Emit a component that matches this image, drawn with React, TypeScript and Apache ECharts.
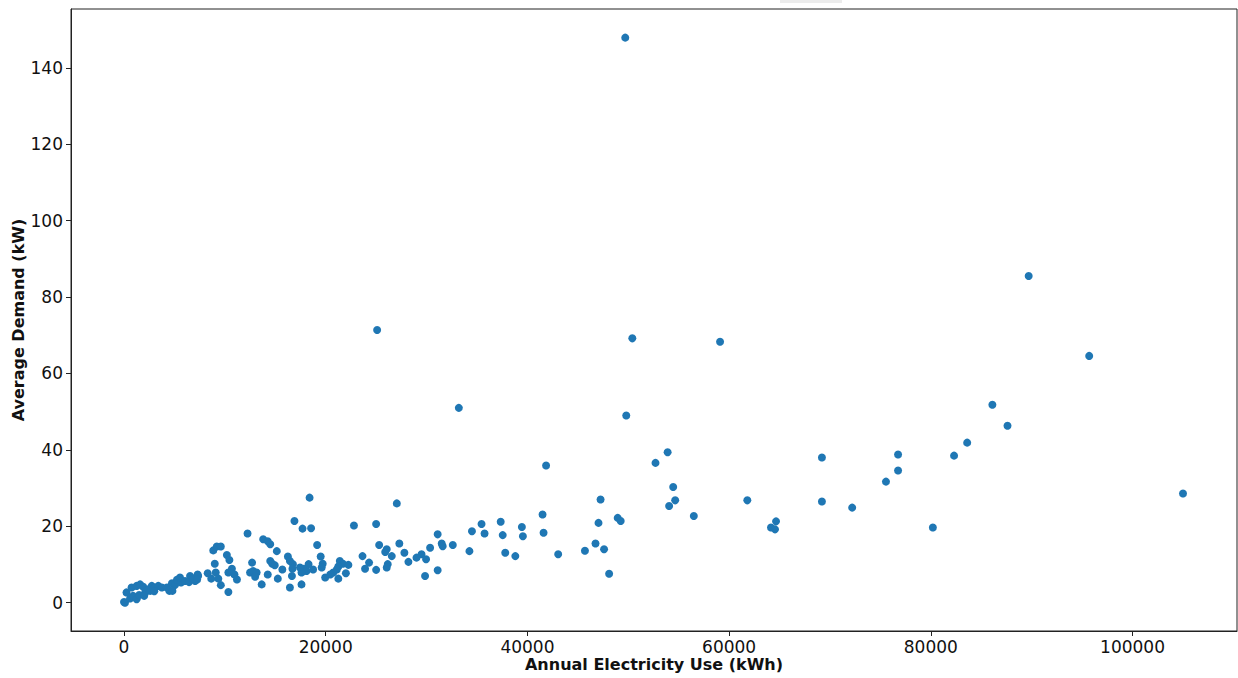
import React, { useEffect, useRef } from "react";
import * as echarts from "echarts";

const annualUse: number[] = [
  49700, 89700, 25100, 50400, 59100, 95700, 33200, 49800, 86100, 87600,
  83600, 82300, 76750, 76750, 75550, 69200, 69200, 72200, 80200, 105000,
  61800, 64150, 64650, 64550, 53900, 52700, 54450, 54650, 54050, 56500,
  47250, 47050, 48950, 49250, 46750, 47600, 48100, 41850, 41500, 41600,
  43050, 45700, 37350, 37550, 37800, 38800, 39450, 39550, 27050, 35450,
  34500, 35750, 34250, 31100, 31500, 31600, 32600, 30350, 29500, 29950,
  29000, 31100, 29850, 27300, 27800, 28200, 26550, 18400, 16900, 17700,
  18550, 22800, 25000, 19150, 19500, 19700, 25300, 26050, 25900, 26150,
  26050, 23650, 24300, 23900, 25000, 21400, 21700, 22250, 21250, 21100,
  20750, 22000, 21250, 19950, 20450, 19600, 18750, 18300, 17800, 17450,
  18100, 17600, 16750, 16650, 17600, 16450, 12250, 13800, 14250, 14500,
  15150, 8850, 9200, 9600, 10200, 10450, 9000, 10700, 10950, 11200,
  10350, 8300, 8650, 9100, 9350, 9600, 10350, 7350, 7050, 12700,
  12500, 12800, 13150, 13000, 13650, 14250, 14500, 14700, 14950, 15250,
  15700, 16250, 16450, 16700, 0, 100, 250, 600, 900, 750,
  1250, 1600, 1250, 1900, 2100, 2400, 2750, 2600, 3050, 3400,
  3750, 4250, 4500, 4750, 5050, 5250, 5650, 5550, 6050, 6550,
  6450, 6850, 7300, 7250, 4800, 1500, 2000, 3000,
];

const avgDemand: number[] = [
  147.9, 85.5, 71.4, 69.2, 68.3, 64.6, 51.0, 49.0, 51.8, 46.3,
  41.9, 38.5, 38.8, 34.6, 31.7, 38.0, 26.5, 24.9, 19.7, 28.6,
  26.8, 19.7, 21.3, 19.2, 39.4, 36.6, 30.3, 26.8, 25.3, 22.7,
  27.0, 20.9, 22.2, 21.4, 15.5, 14.0, 7.6, 35.9, 23.1, 18.3,
  12.7, 13.6, 21.2, 17.7, 13.1, 12.2, 19.8, 17.4, 26.0, 20.6,
  18.7, 18.1, 13.5, 17.9, 15.5, 14.8, 15.1, 14.4, 12.7, 11.4,
  11.8, 8.5, 7.0, 15.5, 13.1, 10.7, 12.2, 27.5, 21.4, 19.4,
  19.5, 20.2, 20.6, 15.1, 12.1, 10.2, 15.1, 14.0, 13.3, 10.1,
  9.2, 12.2, 10.5, 8.9, 8.6, 10.9, 10.2, 9.9, 9.5, 8.7,
  7.9, 7.7, 6.3, 6.6, 7.4, 9.2, 8.7, 10.1, 8.9, 9.2,
  8.3, 7.9, 10.1, 7.0, 4.8, 4.0, 18.1, 16.6, 16.1, 15.3,
  13.5, 13.7, 14.7, 14.7, 12.5, 11.2, 10.2, 8.9, 7.4, 6.1,
  7.9, 7.7, 6.3, 7.9, 6.3, 4.6, 2.8, 7.0, 5.7, 10.5,
  7.9, 8.3, 7.9, 6.8, 4.8, 7.4, 10.9, 10.2, 9.8, 6.3,
  8.7, 12.1, 10.9, 8.9, 0.2, 0.0, 2.7, 1.1, 1.8, 4.0,
  4.4, 4.8, 0.9, 4.2, 2.7, 3.5, 4.4, 3.1, 4.0, 4.4,
  4.0, 4.0, 3.1, 5.1, 4.6, 6.0, 5.3, 6.6, 5.7, 7.0,
  5.4, 6.3, 7.4, 6.1, 3.1, 2.0, 1.8, 3.0,
];

const xTicks: number[] = [0, 20000, 40000, 60000, 80000, 100000];
const yTicks: number[] = [0, 20, 40, 60, 80, 100, 120, 140];

const xTitle = "Annual Electricity Use (kWh)";
const yTitle = "Average Demand (kW)";

export default function App() {
  const ref = useRef<HTMLDivElement>(null);

  useEffect(() => {
    if (!ref.current) return;
    const chart = echarts.init(ref.current, null, { renderer: "svg" });
    const points = annualUse.map((x, i) => [x, avgDemand[i]]);
    const font = "DejaVu Sans";
    chart.setOption({
      animation: false,
      backgroundColor: "#ffffff",
      grid: {
        left: 71,
        right: 1,
        top: 9,
        bottom: 47,
        containLabel: false,
        outerBoundsMode: "none",
        show: true,
        borderColor: "#222",
        borderWidth: 1,
        backgroundColor: "transparent",
      },
      graphic: [
        {
          type: "rect",
          shape: { x: 780, y: 0, width: 62, height: 3 },
          style: { fill: "#ececec" },
          silent: true,
        },
      ],
      xAxis: {
        type: "value",
        min: -5255,
        max: 110355,
        name: xTitle,
        nameLocation: "middle",
        nameGap: 25,
        nameMoveOverlap: false,
        nameTextStyle: { fontFamily: font, fontSize: 16, fontWeight: "bold", color: "#111" },
        splitLine: { show: false },
        axisLine: { show: true, onZero: false, lineStyle: { color: "#222", width: 1 } },
        axisTick: {
          show: true,
          inside: false,
          length: 5,
          customValues: xTicks,
          lineStyle: { color: "#222" },
        },
        axisLabel: {
          show: true,
          customValues: xTicks,
          margin: 7,
          fontFamily: font,
          fontSize: 17,
          color: "#111",
          formatter: (v: number) => String(v),
        },
      },
      yAxis: {
        type: "value",
        min: -7.4,
        max: 155.4,
        name: yTitle,
        nameLocation: "middle",
        nameGap: 45,
        nameMoveOverlap: false,
        nameRotate: 90,
        nameTextStyle: { fontFamily: font, fontSize: 16, fontWeight: "bold", color: "#111" },
        splitLine: { show: false },
        axisLine: { show: true, onZero: false, lineStyle: { color: "#222", width: 1 } },
        axisTick: {
          show: true,
          inside: false,
          length: 5,
          customValues: yTicks,
          lineStyle: { color: "#222" },
        },
        axisLabel: {
          show: true,
          customValues: yTicks,
          margin: 8,
          fontFamily: font,
          fontSize: 17,
          color: "#111",
          formatter: (v: number) => String(v),
        },
      },
      series: [
        {
          type: "scatter",
          data: points,
          symbol: "circle",
          symbolSize: 8,
          itemStyle: { color: "#1f77b4", opacity: 1 },
        },
      ],
    });
    return () => chart.dispose();
  }, []);

  return (
    <div
      ref={ref}
      style={{ position: "absolute", left: 0, top: 0, width: 1238, height: 678 }}
    />
  );
}
